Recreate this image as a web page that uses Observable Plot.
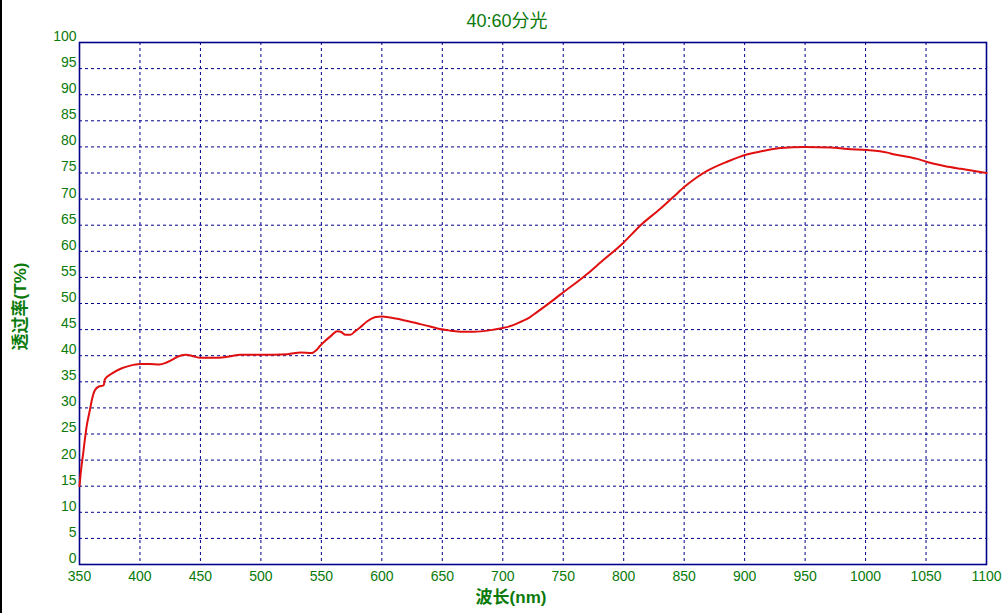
<!DOCTYPE html>
<html>
<head>
<meta charset="utf-8">
<script src="https://cdn.jsdelivr.net/npm/d3@7"></script>
<script src="https://cdn.jsdelivr.net/npm/@observablehq/plot@0.6"></script>
<style>
  html, body { margin: 0; padding: 0; background: #fff; }
  #wrap { position: relative; width: 1008px; height: 613px; overflow: hidden; }
  #edge { position: absolute; left: 0; top: 0; width: 2px; height: 613px; background: #000; }
</style>
</head>
<body>
<div id="wrap"><div id="edge"></div></div>
<script>
const title = "40:60分光";
const xLabel = "波长(nm)";
const yLabel = "透过率(T%)";
const xTicks = [350, 400, 450, 500, 550, 600, 650, 700, 750, 800, 850, 900, 950, 1000, 1050, 1100];
const yTicks = [0, 5, 10, 15, 20, 25, 30, 35, 40, 45, 50, 55, 60, 65, 70, 75, 80, 85, 90, 95, 100];

const wavelength = [350, 351, 353, 356, 358.5, 360.5, 362.5, 366, 370, 371, 377, 384, 392, 400, 408, 416, 422, 428, 431, 438, 444, 450, 464, 475, 483, 500, 522, 533, 542, 546, 549, 553, 558, 563, 566, 570, 574, 578, 582, 588, 595, 600, 607, 618, 629, 640, 648, 657, 665, 676, 690, 700, 708, 715, 722, 728, 742, 752, 762, 770, 781, 800, 814, 830, 841, 851, 860, 869, 886, 901, 913, 919, 930, 950, 971, 985, 1001, 1018, 1023, 1037, 1043, 1051, 1066, 1079, 1090, 1100];
const transmittance = [15.0, 17.5, 21.2, 26.6, 29.5, 31.8, 33.3, 34.1, 34.3, 35.5, 36.6, 37.5, 38.1, 38.4, 38.4, 38.3, 38.7, 39.4, 39.8, 40.2, 39.9, 39.6, 39.6, 39.9, 40.2, 40.2, 40.3, 40.6, 40.5, 41.1, 41.9, 42.8, 43.8, 44.7, 44.6, 44.0, 44.0, 44.7, 45.4, 46.6, 47.4, 47.5, 47.3, 46.8, 46.2, 45.6, 45.1, 44.8, 44.6, 44.6, 44.9, 45.3, 45.8, 46.5, 47.3, 48.3, 50.7, 52.5, 54.2, 55.7, 57.9, 61.7, 65.0, 68.1, 70.4, 72.5, 74.1, 75.4, 77.2, 78.5, 79.1, 79.4, 79.8, 80.0, 79.9, 79.6, 79.4, 78.9, 78.6, 78.0, 77.7, 77.1, 76.3, 75.8, 75.4, 75.0];

const data = wavelength.map((w, i) => ({w, t: transmittance[i]}));

const green = "#0a7a0a";
const navy = "#00008b";
const tickFont = "'Liberation Sans', Arial, sans-serif";
const cjkFont = "'Liberation Sans', 'Noto Sans CJK SC', sans-serif";

const chart = Plot.plot({
  width: 1008,
  height: 613,
  marginLeft: 79,
  marginRight: 22,
  marginTop: 42,
  marginBottom: 49,
  style: {background: "#fff", fontFamily: tickFont, fontSize: "14px"},
  x: {domain: [350, 1100]},
  y: {domain: [0, 100]},
  marks: [
    Plot.gridX(xTicks.slice(1, -1), {stroke: navy, strokeOpacity: 1, strokeWidth: 1, strokeDasharray: "3,3"}),
    Plot.gridY(yTicks.slice(1, -1), {stroke: navy, strokeOpacity: 1, strokeWidth: 1, strokeDasharray: "3,3"}),
    Plot.frame({stroke: navy, strokeWidth: 1.6}),
    Plot.axisX(xTicks, {tickSize: 0, tickPadding: 7, fill: green, label: null, fontSize: 14, tickFormat: d => String(d)}),
    Plot.axisY(yTicks, {tickSize: 0, tickPadding: 3, dy: -6, fill: green, label: null, fontSize: 14, tickFormat: d => String(d)}),
    Plot.line(data, {x: "w", y: "t", stroke: "#e01010", strokeWidth: 2, curve: "monotone-x"}),
    Plot.text([title], {frameAnchor: "top", lineAnchor: "middle", dx: -26, dy: -21, fill: green, fontSize: 18, fontFamily: cjkFont}),
    Plot.text([xLabel], {frameAnchor: "bottom", lineAnchor: "middle", dx: -22, dy: 33, fill: green, fontSize: 17, fontWeight: "bold", fontFamily: cjkFont}),
    Plot.text([yLabel], {frameAnchor: "left", textAnchor: "middle", lineAnchor: "middle", dx: -59, dy: 3, rotate: -90, fill: green, fontSize: 17, fontWeight: "bold", fontFamily: cjkFont})
  ]
});
document.getElementById("wrap").appendChild(chart);
</script>
</body>
</html>
